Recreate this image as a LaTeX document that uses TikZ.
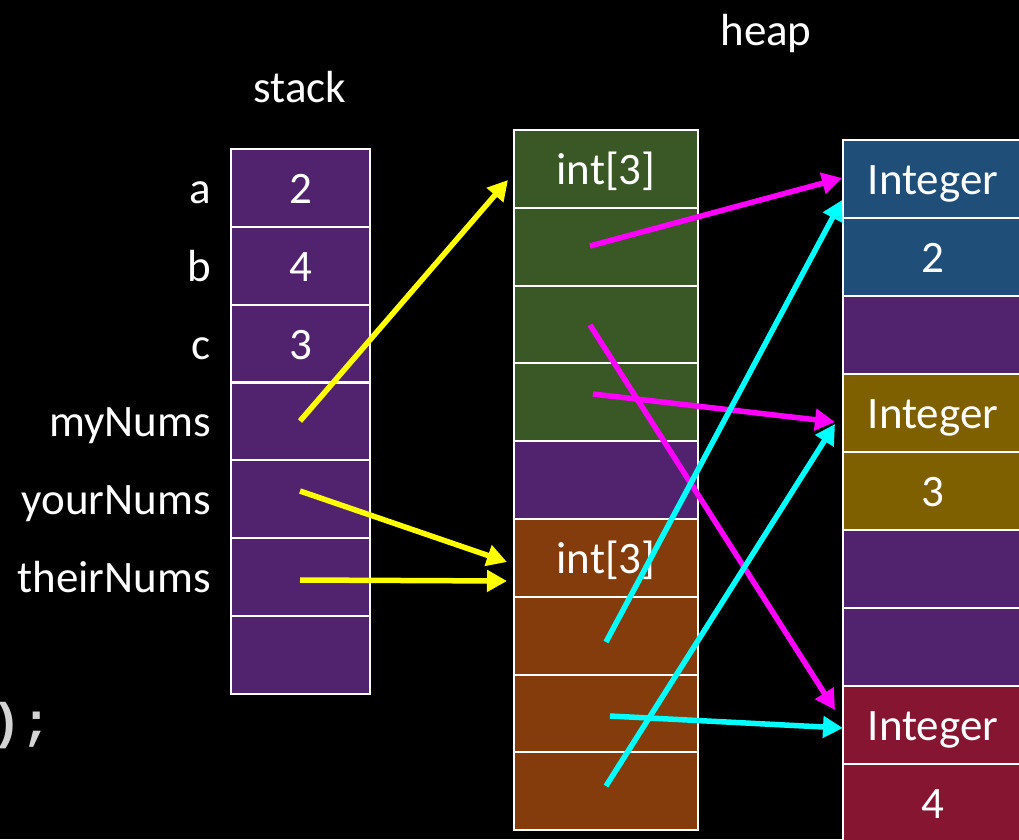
\documentclass[tikz,border=0pt]{standalone}
\usepackage{fontspec}
\setmainfont{Carlito}
\newfontfamily\codefont{Liberation Mono}
\usetikzlibrary{arrows.meta}
\definecolor{cpurple}{RGB}{81,35,110}
\definecolor{cgreen}{RGB}{58,88,38}
\definecolor{cbrown}{RGB}{132,60,12}
\definecolor{cblue}{RGB}{31,78,121}
\definecolor{colive}{RGB}{127,96,0}
\definecolor{cmaroon}{RGB}{133,21,48}
\definecolor{ccode}{RGB}{212,212,212}
\definecolor{pyellow}{RGB}{255,255,0}
\definecolor{pmagenta}{RGB}{255,0,255}
\definecolor{pcyan}{RGB}{0,255,255}
\tikzset{
  cell/.style={draw=white, line width=2.5pt, inner sep=0pt, text=white,
    font=\fontsize{45}{52}\selectfont, text height=30pt, text depth=0pt},
  scell/.style={cell, minimum width=139pt, minimum height=77.86pt},
  acell/.style={cell, minimum width=184pt, minimum height=77.8pt},
  rcell/.style={cell, minimum width=180pt, minimum height=78pt},
  lbl/.style={text=white, inner sep=0pt, font=\fontsize{45}{52}\selectfont,
    text height=30pt, text depth=0pt},
  ptr/.style={line width=5.5pt, -{Triangle[length=20pt,width=21pt]}},
}
\begin{document}
\begin{tikzpicture}[x=1pt,y=-1pt]
\fill[black] (0,0) rectangle (1019,839);
\useasboundingbox (0,0) rectangle (1019,839);
\clip (0,0) rectangle (1019,839);
% titles
\node[lbl] (heap) at (766,30) {heap};
\node[lbl] (stack) at (300,87) {stack};
% partial code text
\node[text=ccode, inner sep=0pt, anchor=base east, font=\codefont\fontsize{50}{56}\selectfont\bfseries] (code) at (52,738) {);};
% stack cells
\node[scell, fill=cpurple] (s0) at (300.5,188) {2};
\node[scell, fill=cpurple] (s1) at (300.5,266) {4};
\node[scell, fill=cpurple] (s2) at (300.5,344) {3};
\node[scell, fill=cpurple] (s3) at (300.5,421.5) {};
\node[scell, fill=cpurple] (s4) at (300.5,499) {};
\node[scell, fill=cpurple] (s5) at (300.5,577) {};
\node[scell, fill=cpurple] (s6) at (300.5,655) {};
% stack labels
\node[lbl, anchor=east] (la) at (211,188) {a};
\node[lbl, anchor=east] (lb) at (211,266) {b};
\node[lbl, anchor=east] (lc) at (211,344) {c};
\node[lbl, anchor=east] (lm) at (211,421.5) {myNums};
\node[lbl, anchor=east] (ly) at (211,499) {yourNums};
\node[lbl, anchor=east] (lt) at (211,577) {theirNums};
% heap arrays
\node[acell, fill=cgreen] (h0) at (606,169) {int[3]};
\node[acell, fill=cgreen] (h1) at (606,247) {};
\node[acell, fill=cgreen] (h2) at (606,325) {};
\node[acell, fill=cgreen] (h3) at (606,402) {};
\node[acell, fill=cpurple] (h4) at (606,480) {};
\node[acell, fill=cbrown] (h5) at (606,558) {int[3]};
\node[acell, fill=cbrown] (h6) at (606,636) {};
\node[acell, fill=cbrown] (h7) at (606,714) {};
\node[acell, fill=cbrown] (h8) at (606,791) {};
% Integer objects
\node[rcell, fill=cblue] (r0) at (933,179) {Integer};
\node[rcell, fill=cblue] (r1) at (933,257) {2};
\node[rcell, fill=cpurple] (r2) at (933,335) {};
\node[rcell, fill=colive] (r3) at (933,413) {Integer};
\node[rcell, fill=colive] (r4) at (933,491) {3};
\node[rcell, fill=cpurple] (r5) at (933,569) {};
\node[rcell, fill=cpurple] (r6) at (933,647) {};
\node[rcell, fill=cmaroon] (r7) at (933,725) {Integer};
\node[rcell, fill=cmaroon] (r8) at (933,803) {4};
% pointer coordinates
\coordinate (ys1) at (300,421);
\coordinate (ys2) at (300,491);
\coordinate (ys3) at (300,580);
\coordinate (ye1) at (508,180);
\coordinate (ye2) at (507,562);
\coordinate (ye3) at (507,581);
\coordinate (ms1) at (590,246);
\coordinate (ms2) at (590,325);
\coordinate (ms3) at (593,394);
\coordinate (me1) at (842,178);
\coordinate (me2) at (835,710);
\coordinate (me3) at (835,422);
\coordinate (cs1) at (606,642);
\coordinate (cs2) at (606,786);
\coordinate (cs3) at (610,716);
\coordinate (ce1) at (842,200);
\coordinate (ce2) at (835,424);
\coordinate (ce3) at (843,728);
% pointers
\draw[ptr, pyellow] (ys1) -- (ye1);
\draw[ptr, pyellow] (ys2) -- (ye2);
\draw[ptr, pyellow] (ys3) -- (ye3);
\draw[ptr, pmagenta] (ms1) -- (me1);
\draw[ptr, pmagenta] (ms2) -- (me2);
\draw[ptr, pmagenta] (ms3) -- (me3);
\draw[ptr, pcyan] (cs1) -- (ce1);
\draw[ptr, pcyan] (cs2) -- (ce2);
\draw[ptr, pcyan] (cs3) -- (ce3);
\end{tikzpicture}
\end{document}
